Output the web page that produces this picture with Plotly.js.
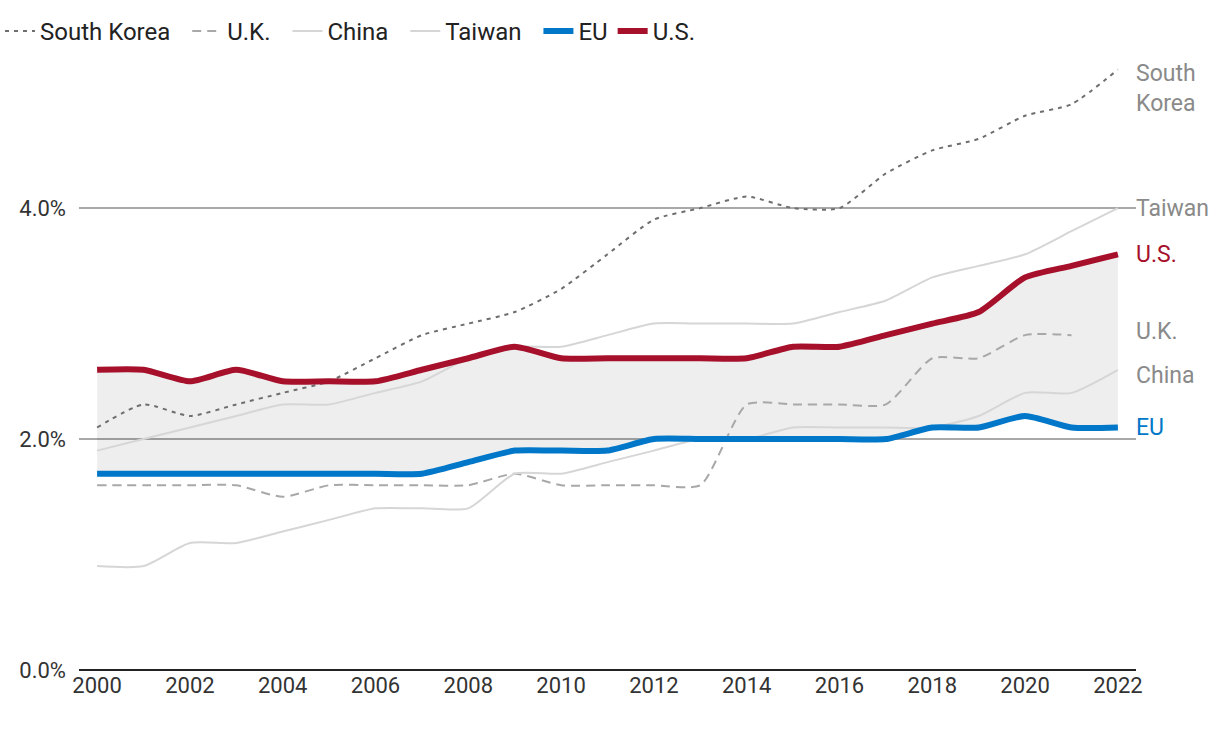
<!DOCTYPE html>
<html>
<head>
<meta charset="utf-8">
<script src="https://cdn.plot.ly/plotly-3.0.1.min.js"></script>
<style>html,body{margin:0;padding:0;background:#fff;}#chart{width:1220px;height:732px;}</style>
</head>
<body>
<div id="chart"></div>
<script>
const years = [2000,2001,2002,2003,2004,2005,2006,2007,2008,2009,2010,2011,2012,2013,2014,2015,2016,2017,2018,2019,2020,2021,2022];
const southKorea = [2.1,2.3,2.2,2.3,2.4,2.5,2.7,2.9,3.0,3.1,3.3,3.6,3.9,4.0,4.1,4.0,4.0,4.3,4.5,4.6,4.8,4.9,5.2];
const uk = [1.6,1.6,1.6,1.6,1.5,1.6,1.6,1.6,1.6,1.7,1.6,1.6,1.6,1.6,2.3,2.3,2.3,2.3,2.7,2.7,2.9,2.9,null];
const china = [0.9,0.9,1.1,1.1,1.2,1.3,1.4,1.4,1.4,1.7,1.7,1.8,1.9,2.0,2.0,2.1,2.1,2.1,2.1,2.2,2.4,2.4,2.6];
const taiwan = [1.9,2.0,2.1,2.2,2.3,2.3,2.4,2.5,2.7,2.8,2.8,2.9,3.0,3.0,3.0,3.0,3.1,3.2,3.4,3.5,3.6,3.8,4.0];
const eu = [1.7,1.7,1.7,1.7,1.7,1.7,1.7,1.7,1.8,1.9,1.9,1.9,2.0,2.0,2.0,2.0,2.0,2.0,2.1,2.1,2.2,2.1,2.1];
const us = [2.6,2.6,2.5,2.6,2.5,2.5,2.5,2.6,2.7,2.8,2.7,2.7,2.7,2.7,2.7,2.8,2.8,2.9,3.0,3.1,3.4,3.5,3.6];
const yTicks = [0,2,4];
const yTickText = ['0.0%','2.0%','4.0%'];
const xTicks = [2000,2002,2004,2006,2008,2010,2012,2014,2016,2018,2020,2022];
const seriesNames = ['South Korea','U.K.','China','Taiwan','EU','U.S.'];

const FONT = 'Roboto, "Noto Sans", sans-serif';
const SM = 0.6;
const pad = s => s + '\u00a0\u00a0';
const traces = [
  {x: years, y: eu, mode:'lines', line:{width:0, shape:'spline', smoothing:SM}, showlegend:false, hoverinfo:'skip'},
  {x: years, y: us, mode:'lines', line:{width:0, shape:'spline', smoothing:SM}, fill:'tonexty', fillcolor:'rgba(0,0,0,0.065)', showlegend:false, hoverinfo:'skip'},
  {x: years, y: southKorea, name:pad(seriesNames[0]), mode:'lines', line:{color:'#6e6e6e', width:2, dash:'4px,5px', shape:'spline', smoothing:SM}},
  {x: years, y: uk, name:pad(seriesNames[1]), mode:'lines', line:{color:'#a8a8a8', width:2, dash:'9px,6px', shape:'spline', smoothing:SM}},
  {x: years, y: china, name:pad(seriesNames[2]), mode:'lines', line:{color:'#d6d6d6', width:2, shape:'spline', smoothing:SM}},
  {x: years, y: taiwan, name:pad(seriesNames[3]), mode:'lines', line:{color:'#d6d6d6', width:2, shape:'spline', smoothing:SM}},
  {x: years, y: eu, name:seriesNames[4], mode:'lines', line:{color:'#0077c8', width:6, shape:'spline', smoothing:SM}},
  {x: years, y: us, name:seriesNames[5], mode:'lines', line:{color:'#a6102b', width:6, shape:'spline', smoothing:SM}}
];

const lab = (text, y, color) => ({x:2022, y:y, xref:'x', yref:'y', text:text, showarrow:false, xanchor:'left', yanchor:'middle', xshift:16, align:'left', font:{family:FONT, size:23, color:color}});

const layout = {
  width:1220, height:732,
  margin:{l:79, r:84, t:58, b:62},
  paper_bgcolor:'#fff', plot_bgcolor:'#fff',
  font:{family:FONT, size:22, color:'#333'},
  showlegend:true,
  legend:{orientation:'h', xref:'container', yref:'container', x:0, y:0.988, xanchor:'left', yanchor:'top', font:{family:FONT, size:24, color:'#222'}, traceorder:'normal', itemwidth:30, bgcolor:'rgba(0,0,0,0)'},
  xaxis:{range:[1999.61, 2022.39], tickvals:xTicks, ticktext:xTicks.map(String), showgrid:false, zeroline:false, showline:false, ticks:'', tickfont:{family:FONT, size:22, color:'#333'}, fixedrange:true},
  yaxis:{range:[0, 5.3], tickvals:yTicks, ticktext:yTickText, showgrid:true, gridcolor:'#a8a8a8', gridwidth:1.5, zeroline:true, zerolinecolor:'#222', zerolinewidth:2, showline:false, ticks:'', ticklabelstandoff:12, tickfont:{family:FONT, size:22, color:'#333'}, fixedrange:true},
  annotations:[
    lab('South<br>Korea', 5.04, '#8a8a8a'),
    lab('Taiwan', 4.0, '#8a8a8a'),
    lab('U.S.', 3.6, '#a6102b'),
    lab('U.K.', 2.93, '#8a8a8a'),
    lab('China', 2.55, '#8a8a8a'),
    lab('EU', 2.1, '#0077c8')
  ]
};
Plotly.newPlot('chart', traces, layout, {displayModeBar:false, staticPlot:true});
</script>
</body>
</html>
